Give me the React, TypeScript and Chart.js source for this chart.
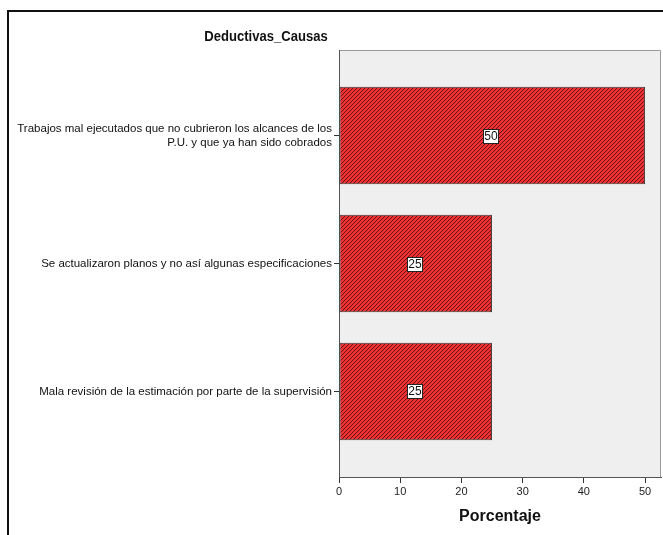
import React, { useEffect, useRef } from 'react';
import { Chart, registerables } from 'chart.js';

Chart.register(...registerables);

const chartTitle = 'Deductivas_Causas';
const xAxisTitle = 'Porcentaje';
const categories: (string | string[])[] = [
  ['Trabajos mal ejecutados que no cubrieron los alcances de los', 'P.U. y que ya han sido cobrados'],
  'Se actualizaron planos y no así algunas especificaciones',
  'Mala revisión de la estimación por parte de la supervisión',
];
const values = [50, 25, 25];
const xTicks = [0, 10, 20, 30, 40, 50];
const xMax = 52.6;

const FONT = '"Liberation Sans", Arial, sans-serif';

function makePattern(): CanvasPattern | string {
  const c = document.createElement('canvas');
  c.width = 4;
  c.height = 4;
  const g = c.getContext('2d');
  if (!g) return '#e3292c';
  g.fillStyle = '#f23135';
  g.fillRect(0, 0, 4, 4);
  for (let x = 0; x < 4; x++) {
    for (let y = 0; y < 4; y++) {
      const k = (x + y) % 4;
      if (k === 0) {
        g.fillStyle = '#6a1414';
        g.fillRect(x, y, 1, 1);
      } else if (k === 1) {
        g.fillStyle = '#e62e31';
        g.fillRect(x, y, 1, 1);
      }
    }
  }
  return g.createPattern(c, 'repeat') || '#e3292c';
}

const framePlugin = {
  id: 'framePlugin',
  beforeDraw(chart: any) {
    const { ctx, chartArea, width, height } = chart;
    ctx.save();
    ctx.fillStyle = '#ffffff';
    ctx.fillRect(0, 0, width, height);
    // outer frame
    ctx.fillStyle = '#111111';
    ctx.fillRect(7, 10, 2, height - 10);
    ctx.fillRect(7, 10, width - 7, 2);
    // plot background
    const { left, top, right, bottom } = chartArea;
    ctx.fillStyle = '#efefef';
    ctx.fillRect(left, top, right - left, bottom - top);
    ctx.strokeStyle = '#9a9a9a';
    ctx.lineWidth = 1;
    ctx.beginPath();
    ctx.moveTo(left, top + 0.5);
    ctx.lineTo(right - 0.5, top + 0.5);
    ctx.lineTo(right - 0.5, bottom);
    ctx.stroke();
    // title (slightly condensed, as in the reference)
    ctx.fillStyle = '#111111';
    ctx.font = 'bold 15px ' + FONT;
    ctx.textAlign = 'center';
    ctx.textBaseline = 'middle';
    ctx.translate(266, 37);
    ctx.scale(0.87, 1);
    ctx.fillText(chartTitle, 0, 0);
    ctx.restore();
  },
};

const valueLabelPlugin = {
  id: 'valueLabelPlugin',
  afterDatasetsDraw(chart: any) {
    const { ctx } = chart;
    const meta = chart.getDatasetMeta(0);
    ctx.save();
    ctx.font = '12px ' + FONT;
    ctx.textAlign = 'center';
    ctx.textBaseline = 'middle';
    meta.data.forEach((el: any, i: number) => {
      const p = el.getCenterPoint();
      const cx = Math.round(p.x) - 2;
      const cy = Math.round(p.y);
      const text = String(values[i]);
      const w = Math.round(ctx.measureText(text).width + 2);
      const h = 14;
      const x0 = Math.round(cx - w / 2);
      const y0 = Math.round(cy - h / 2);
      ctx.fillStyle = '#ffffff';
      ctx.fillRect(x0, y0, w, h);
      ctx.strokeStyle = '#222222';
      ctx.lineWidth = 1;
      ctx.strokeRect(x0 + 0.5, y0 + 0.5, w, h);
      ctx.fillStyle = '#111111';
      ctx.fillText(text, x0 + w / 2 + 0.5, cy + 1);
    });
    ctx.restore();
  },
};

export default function App() {
  const ref = useRef<HTMLCanvasElement>(null);

  useEffect(() => {
    document.body.style.margin = '0';
    const canvas = ref.current;
    if (!canvas) return;
    const pattern = makePattern();
    const chart = new Chart(canvas, {
      type: 'bar',
      data: {
        datasets: [
          {
            data: values.map((v, i) => ({ x: v, y: i })),
            backgroundColor: pattern as any,
            borderColor: '#3a3a3a',
            borderWidth: 1,
            borderSkipped: false,
            categoryPercentage: 1,
            barPercentage: 0.76,
          },
        ],
      },
      plugins: [framePlugin, valueLabelPlugin],
      options: {
        indexAxis: 'y',
        responsive: false,
        animation: false,
        devicePixelRatio: 1,
        layout: { padding: { top: 50, right: 2, left: 0, bottom: 0 } },
        plugins: {
          legend: { display: false },
          title: { display: false },
          tooltip: { enabled: false },
        },
        scales: {
          x: {
            type: 'linear',
            position: 'bottom',
            min: 0,
            max: xMax,
            offset: false,
            grid: { drawOnChartArea: false, drawTicks: true, tickLength: 6, color: '#333333', offset: false },
            border: { display: true, color: '#555555', width: 1 },
            ticks: { font: { size: 11, family: FONT }, color: '#222222', padding: 2 },
            title: {
              display: true,
              text: xAxisTitle,
              font: { size: 16, weight: 'bold', family: FONT },
              color: '#111111',
              padding: { top: 4, bottom: 9 },
            },
            afterBuildTicks: (s: any) => {
              s.ticks = xTicks.map((v) => ({ value: v }));
            },
            afterFit: (s: any) => {
              s.height = 58;
              s.paddingLeft = 0;
              s.paddingRight = 0;
            },
          },
          y: {
            type: 'linear',
            reverse: true,
            min: -0.668,
            max: 2.668,
            offset: false,
            grid: { drawOnChartArea: false, drawTicks: true, tickLength: 5, color: '#333333', offset: false },
            border: { display: true, color: '#555555', width: 1 },
            ticks: {
              autoSkip: false,
              font: { size: 11.5, family: FONT },
              color: '#111111',
              padding: 2,
              callback: (v: any) => categories[Number(v)] as any,
            },
            afterBuildTicks: (s: any) => {
              s.ticks = categories.map((_, i) => ({ value: i }));
            },
            afterFit: (s: any) => {
              s.width = 339;
              s.paddingTop = 0;
              s.paddingBottom = 0;
            },
          },
        },
      } as any,
    });
    return () => chart.destroy();
  }, []);

  return <canvas ref={ref} width={663} height={535} style={{ display: 'block' }} />;
}
